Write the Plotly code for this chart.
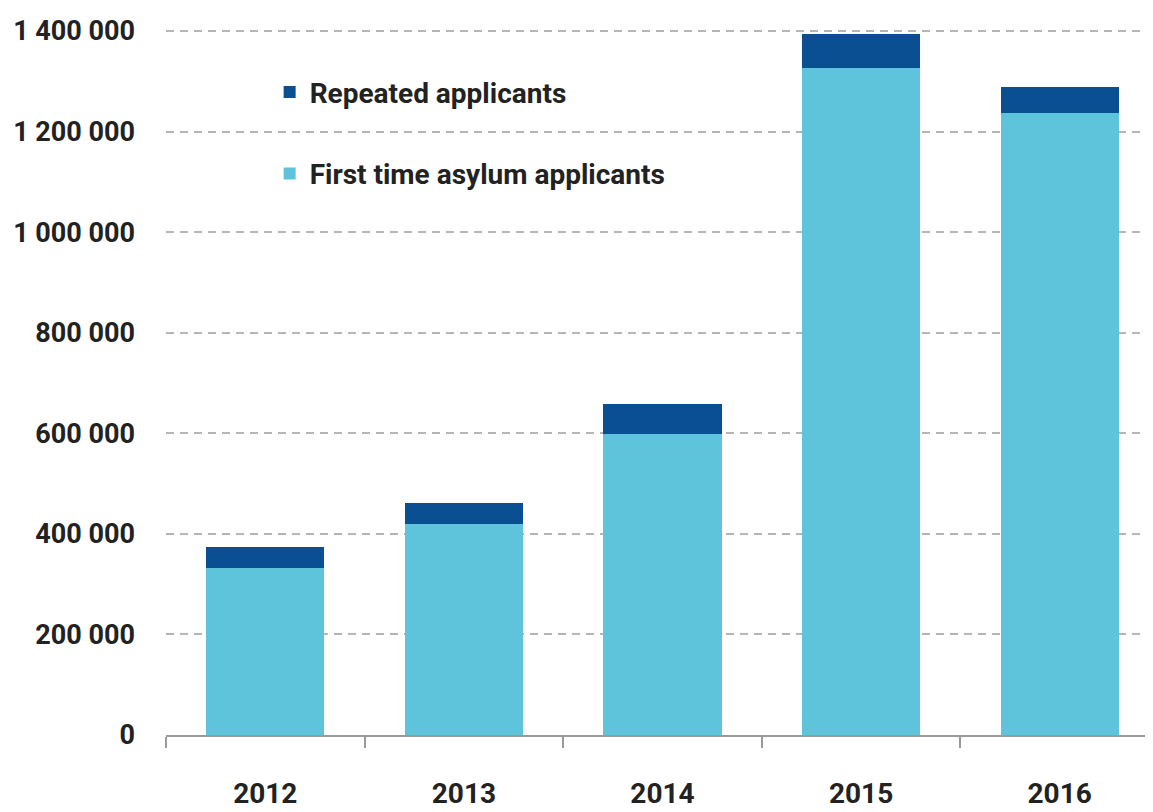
import plotly.graph_objects as go

years = ["2012", "2013", "2014", "2015", "2016"]
first_time = [332000, 420000, 599000, 1326000, 1236000]
repeated = [42000, 42000, 59000, 69000, 52000]
y_ticks = [0, 200000, 400000, 600000, 800000, 1000000, 1200000, 1400000]

FONT = "Roboto, Liberation Sans, sans-serif"

fig = go.Figure()
fig.add_trace(go.Bar(x=years, y=first_time, name="First time asylum applicants",
                     marker=dict(color="#5EC4DC", line=dict(width=0)),
                     legendgroup="b", legendrank=2))
fig.add_trace(go.Bar(x=years, y=repeated, name="Repeated applicants",
                     marker=dict(color="#0A4F91", line=dict(width=0)),
                     legendgroup="a", legendrank=1))

fig.update_layout(
    barmode="stack",
    bargap=0.405,
    width=1153, height=812,
    margin=dict(l=158, r=8, t=2, b=85, autoexpand=False),
    plot_bgcolor="white", paper_bgcolor="white",
    separators=". ",
    font=dict(family=FONT, size=27, color="#222222"),
    legend=dict(x=0.105, y=0.921, xanchor="left", yanchor="top",
                traceorder="grouped", tracegroupgap=42,
                font=dict(family=FONT, size=28, color="#222222", weight="bold"),
                bgcolor="rgba(0,0,0,0)"),
    xaxis=dict(range=[-0.5, 4.47], showline=True, linecolor="#9a9a9a", linewidth=2,
               ticks="outside", tickson="boundaries", ticklen=11, tickcolor="#9a9a9a",
               tickwidth=1.5, showgrid=False, ticklabelstandoff=32, automargin=False,
               tickfont=dict(family=FONT, size=28, color="#222222", weight="bold")),
    yaxis=dict(range=[0, 1441800], tickvals=y_ticks, tickformat=",d", showgrid=True,
               gridcolor="#b5b5b5", gridwidth=2, griddash="8px,6px", zeroline=False,
               showline=False, ticks="", ticklabelstandoff=30, automargin=False,
               tickfont=dict(family=FONT, size=27, color="#222222", weight="bold")),
)

fig.write_html("out.html")
